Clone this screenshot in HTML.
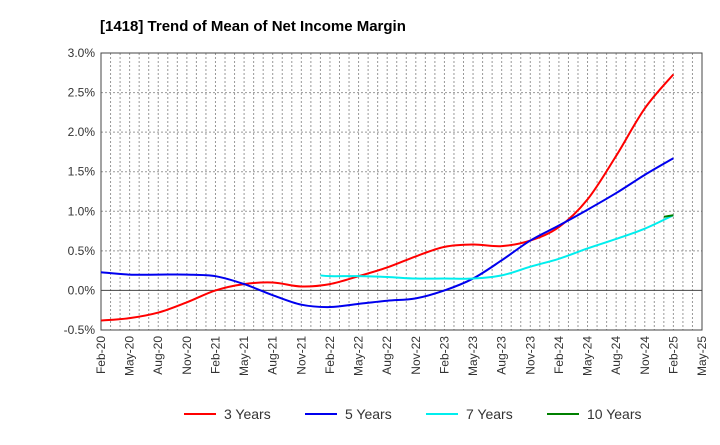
<!DOCTYPE html>
<html><head><meta charset="utf-8"><style>
body{margin:0;background:#fff;font-family:"Liberation Sans",Arial,sans-serif}
</style></head><body>
<svg width="720" height="440" viewBox="0 0 720 440" xmlns="http://www.w3.org/2000/svg">
<text x="100" y="31" font-size="15" font-weight="bold" fill="#000">[1418]  Trend of Mean of Net Income Margin</text>
<g id="grid"></g><g id="axes"></g><g id="series"></g><g id="legend"></g>
</svg>
<script>
const xLabels=["Feb-20","May-20","Aug-20","Nov-20","Feb-21","May-21","Aug-21","Nov-21","Feb-22","May-22","Aug-22","Nov-22","Feb-23","May-23","Aug-23","Nov-23","Feb-24","May-24","Aug-24","Nov-24","Feb-25","May-25"];
const yTicks=[-0.5,0,0.5,1,1.5,2,2.5,3];
const months3=[0,3,6,9,12,15,18,21,24,27,30,33,36,39,42,45,48,51,54,57,60];
const vals3=[-0.38,-0.35,-0.28,-0.15,0.0,0.08,0.10,0.05,0.08,0.18,0.29,0.43,0.55,0.58,0.56,0.63,0.80,1.15,1.70,2.30,2.73];
const months5=[0,3,6,9,12,15,18,21,24,27,30,33,36,39,42,45,48,51,54,57,60];
const vals5=[0.23,0.20,0.20,0.20,0.18,0.08,-0.06,-0.18,-0.21,-0.17,-0.13,-0.10,0.0,0.15,0.38,0.63,0.82,1.02,1.23,1.46,1.67];
const months7=[23,24,27,30,33,36,39,42,45,48,51,54,57,60];
const vals7=[0.19,0.18,0.18,0.17,0.15,0.15,0.15,0.19,0.30,0.40,0.53,0.65,0.78,0.95];
const months10=[59,60];
const vals10=[0.93,0.95];
const L=101,R=702,T=53,B=330,NM=63;
const xs=m=>L+(R-L)*m/NM, ys=v=>B-(v+0.5)/3.5*(B-T);
const NS="http://www.w3.org/2000/svg";
function mk(t,a,p){const e=document.createElementNS(NS,t);for(const k in a)e.setAttribute(k,a[k]);p.appendChild(e);return e;}
const grid=document.getElementById('grid'),axes=document.getElementById('axes'),ser=document.getElementById('series'),leg=document.getElementById('legend');
for(let m=1;m<NM;m++){const l=mk('line',{x1:xs(m),x2:xs(m),y1:T,y2:B,stroke:'#999','stroke-dasharray':'2,2','stroke-width':1},grid);

}
yTicks.forEach(v=>{const l=mk('line',{x1:L,x2:R,y1:ys(v),y2:ys(v),stroke:v===0?'#444':'#999','stroke-dasharray':v===0?'':'2,2','stroke-width':1},grid);


const t=mk('text',{x:L-6,y:ys(v)+4,'text-anchor':'end','font-size':12,fill:'#333'},axes);t.textContent=v.toFixed(1)+'%';

});
const fr=mk('rect',{x:L,y:T,width:R-L,height:B-T,fill:'none',stroke:'#444','stroke-width':1},axes);


xLabels.forEach((s,i)=>{const x=xs(i*3),y=B+6;const t=mk('text',{x:x+4,y:y,'text-anchor':'end','font-size':12,fill:'#333',transform:`rotate(-90 ${x+4} ${y})`},axes);t.textContent=s;

});
function path(ms,vs){const p=ms.map((m,i)=>[xs(m),ys(vs[i])]);let d='M'+p[0][0]+','+p[0][1];
for(let i=0;i<p.length-1;i++){const p0=p[i-1]||p[i],p1=p[i],p2=p[i+1],p3=p[i+2]||p2;
d+=` C${p1[0]+(p2[0]-p0[0])/6},${p1[1]+(p2[1]-p0[1])/6} ${p2[0]-(p3[0]-p1[0])/6},${p2[1]-(p3[1]-p1[1])/6} ${p2[0]},${p2[1]}`;}return d;}
const S=[["3 Years","#ff0000",months3,vals3],["5 Years","#0000ee",months5,vals5],["7 Years","#00eeee",months7,vals7],["10 Years","#008000",months10,vals10]];
const lx=[184,305,426,547];
S.forEach((s,i)=>{const p=mk('path',{d:path(s[2],s[3]),fill:'none',stroke:s[1],'stroke-width':2},ser);


const g=mk('g',{},leg);


mk('line',{x1:lx[i],x2:lx[i]+32,y1:414,y2:414,stroke:s[1],'stroke-width':2},g);
const t=mk('text',{x:lx[i]+40,y:419,'font-size':14,fill:'#333'},g);t.textContent=s[0];});
</script>
</body></html>
